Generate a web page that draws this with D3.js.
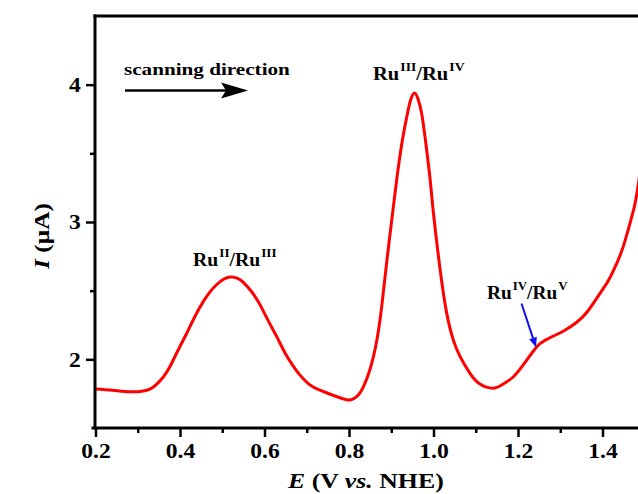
<!DOCTYPE html>
<html>
<head>
<meta charset="utf-8">
<script src="https://cdn.jsdelivr.net/npm/d3@7"></script>
<style>
  html, body { margin: 0; padding: 0; background: #fff; }
  svg { display: block; }
  text { font-family: "Liberation Serif", "Times New Roman", serif; font-weight: bold; fill: #000; }
</style>
</head>
<body>
<svg id="chart" width="638" height="494"></svg>
<script>
// Differential pulse voltammogram: potential (V vs. NHE) and current (µA)
const potential = [0.20, 0.24, 0.28, 0.31, 0.33, 0.345, 0.36, 0.376, 0.396, 0.416,
  0.435, 0.455, 0.472, 0.487, 0.503, 0.518, 0.535, 0.55, 0.57, 0.589,
  0.609, 0.629, 0.648, 0.668, 0.684, 0.705, 0.731, 0.765, 0.795, 0.81,
  0.822, 0.834, 0.85, 0.866, 0.878, 0.889, 0.901, 0.913, 0.925, 0.937,
  0.946, 0.955, 0.963, 0.972, 0.982, 0.992, 1.000, 1.015, 1.031, 1.047,
  1.063, 1.086, 1.11, 1.142, 1.165, 1.189, 1.215, 1.244, 1.262, 1.284,
  1.31, 1.339, 1.365, 1.394, 1.415, 1.434, 1.45, 1.465, 1.476, 1.484,
  1.50];
const current = [1.784, 1.775, 1.764, 1.768, 1.785, 1.82, 1.87, 1.946, 2.07, 2.19,
  2.31, 2.42, 2.495, 2.545, 2.583, 2.60, 2.592, 2.56, 2.49, 2.40,
  2.28, 2.165, 2.05, 1.95, 1.885, 1.82, 1.775, 1.735, 1.706, 1.712,
  1.74, 1.80, 1.93, 2.14, 2.40, 2.70, 3.01, 3.31, 3.57, 3.77,
  3.89, 3.94, 3.90, 3.79, 3.57, 3.31, 3.06, 2.67, 2.34, 2.14,
  2.02, 1.90, 1.82, 1.79, 1.82, 1.873, 1.97, 2.09, 2.135, 2.17,
  2.21, 2.27, 2.35, 2.48, 2.58, 2.70, 2.83, 2.99, 3.12, 3.26,
  3.58];

const xTicks = [0.2, 0.4, 0.6, 0.8, 1.0, 1.2, 1.4];
const xMinorTicks = [0.3, 0.5, 0.7, 0.9, 1.1, 1.3];
const yTicks = [2, 3, 4];
const yMinorTicks = [2.5, 3.5];

// Redox couples: [main, superscript, main, superscript]
const couples = [
  { parts: ["Ru", "II", "/Ru", "III"], E: 0.52 },
  { parts: ["Ru", "III", "/Ru", "IV"], E: 0.955 },
  { parts: ["Ru", "IV", "/Ru", "V"], E: 1.25 }
];

const svg = d3.select("#chart");
const plotLeft = 95, plotTop = 16, plotBottom = 428, plotRight = 638;

const x = d3.scaleLinear().domain([0.2, 1.5]).range([95.5, 644.75]);
const y = d3.scaleLinear().domain([1.5, 4.5]).range([plotBottom, plotTop]);

// Stretch a text element horizontally so it spans a given width
function fit(sel, width, transformPrefix) {
  const w0 = sel.node().getBBox().width;
  sel.attr("transform", transformPrefix + ` scale(${width / w0},1)`);
}

// Curve
const line = d3.line()
  .x((d, i) => x(potential[i]))
  .y(d => y(d))
  .curve(d3.curveNatural);

svg.append("defs").append("clipPath").attr("id", "plotClip")
  .append("rect").attr("x", plotLeft).attr("y", plotTop)
  .attr("width", plotRight - plotLeft + 10).attr("height", plotBottom - plotTop);

svg.append("path")
  .datum(current)
  .attr("clip-path", "url(#plotClip)")
  .attr("fill", "none")
  .attr("stroke", "#f00")
  .attr("stroke-width", 3)
  .attr("stroke-linejoin", "round")
  .attr("d", line);

// X axis
const xAxis = svg.append("g")
  .attr("transform", `translate(0,${plotBottom})`)
  .call(d3.axisBottom(x).tickValues(xTicks).tickSize(9).tickFormat(d3.format(".1f")));
xAxis.select(".domain").remove();
xAxis.selectAll(".tick line").attr("stroke", "#000").attr("stroke-width", 2.5);
xAxis.selectAll(".tick text")
  .attr("y", 30).attr("dy", null)
  .attr("font-size", 20)
  .attr("font-family", "Liberation Serif").attr("font-weight", "bold").attr("fill", "#000")
  .attr("transform", "scale(1.18,1)");
svg.append("g").attr("transform", `translate(0,${plotBottom})`)
  .call(d3.axisBottom(x).tickValues(xMinorTicks).tickSize(5).tickFormat(""))
  .call(g => g.select(".domain").remove())
  .selectAll(".tick line").attr("stroke", "#000").attr("stroke-width", 2.5);

// Y axis
const yAxis = svg.append("g")
  .attr("transform", `translate(${plotLeft},0)`)
  .call(d3.axisLeft(y).tickValues(yTicks).tickSize(9).tickFormat(d3.format("d")));
yAxis.select(".domain").remove();
yAxis.selectAll(".tick line").attr("stroke", "#000").attr("stroke-width", 2.5);
yAxis.selectAll(".tick text")
  .attr("x", -12).attr("dy", "0.34em")
  .attr("font-size", 20)
  .attr("font-family", "Liberation Serif").attr("font-weight", "bold").attr("fill", "#000")
  .attr("transform", "scale(1.18,1)");
svg.append("g").attr("transform", `translate(${plotLeft},0)`)
  .call(d3.axisLeft(y).tickValues(yMinorTicks).tickSize(5).tickFormat(""))
  .call(g => g.select(".domain").remove())
  .selectAll(".tick line").attr("stroke", "#000").attr("stroke-width", 2.5);

// Frame: left, bottom and top borders
const frame = svg.append("g").attr("stroke", "#000").attr("stroke-width", 3).attr("stroke-linecap", "square");
frame.append("line").attr("x1", plotLeft).attr("x2", plotLeft).attr("y1", plotTop).attr("y2", plotBottom);
frame.append("line").attr("x1", plotLeft - 2).attr("x2", plotRight + 5).attr("y1", plotBottom).attr("y2", plotBottom);
frame.append("line").attr("x1", plotLeft).attr("x2", plotRight + 5).attr("y1", plotTop).attr("y2", plotTop);

// Axis titles
const xTitle = svg.append("text").attr("font-size", 21);
xTitle.append("tspan").attr("font-style", "italic").text("E");
xTitle.append("tspan").text(" (V ");
xTitle.append("tspan").attr("font-style", "italic").text("vs.");
xTitle.append("tspan").text(" NHE)");
fit(xTitle, 157, "translate(288,488)");

const yTitle = svg.append("text").attr("font-size", 21).attr("text-anchor", "middle");
yTitle.append("tspan").attr("font-style", "italic").text("I");
yTitle.append("tspan").text(" (\u03bcA)");
fit(yTitle, 67, "translate(49,236) rotate(-90)");

// Scan direction note
const scanText = svg.append("text").attr("font-size", 16).text("scanning direction");
fit(scanText, 166, "translate(124,75)");
svg.append("line").attr("x1", 125).attr("x2", 226).attr("y1", 90.5).attr("y2", 90.5)
  .attr("stroke", "#000").attr("stroke-width", 2.5);
svg.append("path").attr("d", "M221,82.5 L248,90.5 L221,98.5 L226,90.5 Z").attr("fill", "#000");

// Redox couple labels
const labelPos = [
  { x: 193, y: 266, w: 84 },
  { x: 373, y: 80, w: 92 },
  { x: 487, y: 299, w: 81 }
];
couples.forEach((c, i) => {
  const t = svg.append("text").attr("font-size", 18);
  t.append("tspan").text(c.parts[0]);
  t.append("tspan").attr("font-size", 12).attr("dy", -9).attr("dx", 1).text(c.parts[1]);
  t.append("tspan").attr("dy", 9).text(c.parts[2]);
  t.append("tspan").attr("font-size", 12).attr("dy", -9).attr("dx", 1).text(c.parts[3]);
  fit(t, labelPos[i].w, `translate(${labelPos[i].x},${labelPos[i].y})`);
});

// Pointer to the Ru(IV)/Ru(V) shoulder
const tipX = x(couples[2].E) - 3, tipY = y(2.10) + 2;
const baseX = 521.5, baseY = 303.5;
const ang = Math.atan2(tipY - baseY, tipX - baseX);
const hl = 10, hw = 4;
const bx = tipX - hl * Math.cos(ang), by = tipY - hl * Math.sin(ang);
svg.append("line").attr("x1", baseX).attr("y1", baseY).attr("x2", bx).attr("y2", by)
  .attr("stroke", "#1010ee").attr("stroke-width", 2);
svg.append("path")
  .attr("d", `M${tipX},${tipY} L${bx + hw * Math.sin(ang)},${by - hw * Math.cos(ang)} L${bx - hw * Math.sin(ang)},${by + hw * Math.cos(ang)} Z`)
  .attr("fill", "#1010ee");
</script>
</body>
</html>
